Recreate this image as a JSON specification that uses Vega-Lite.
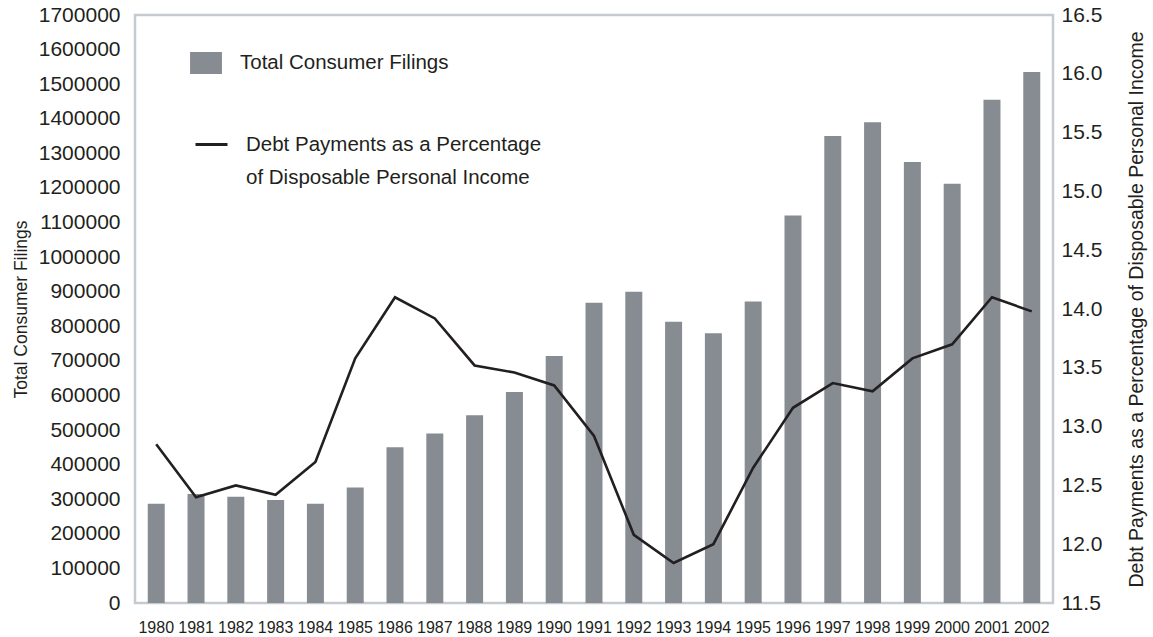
{
  "$schema": "https://vega.github.io/schema/vega-lite/v6.json",
  "width": 918,
  "height": 588,
  "autosize": {"type": "none"},
  "padding": {"left": 135, "top": 15, "right": 100, "bottom": 34},
  "background": "white",
  "config": {
    "font": "Liberation Sans",
    "view": {"stroke": "#c5c9d0", "strokeWidth": 2.5},
    "axis": {"labelFont": "Liberation Sans", "titleFont": "Liberation Sans", "labelColor": "#231f20", "titleColor": "#231f20", "grid": false, "ticks": false, "domain": false, "titleFontWeight": "normal"},
    "legend": {"labelFont": "Liberation Sans", "labelColor": "#231f20", "labelFontSize": 20.5, "padding": 0, "labelLimit": 600},
    "style": {"guide-label": {"lineHeight": 33}}
  },
  "data": {"values": [
    {"year": "1980", "filings": 287000, "debt": 12.85},
    {"year": "1981", "filings": 315000, "debt": 12.4},
    {"year": "1982", "filings": 307000, "debt": 12.5},
    {"year": "1983", "filings": 298000, "debt": 12.42},
    {"year": "1984", "filings": 287000, "debt": 12.7},
    {"year": "1985", "filings": 334000, "debt": 13.58},
    {"year": "1986", "filings": 450000, "debt": 14.1},
    {"year": "1987", "filings": 490000, "debt": 13.92},
    {"year": "1988", "filings": 543000, "debt": 13.52},
    {"year": "1989", "filings": 610000, "debt": 13.46},
    {"year": "1990", "filings": 714000, "debt": 13.35},
    {"year": "1991", "filings": 868000, "debt": 12.92},
    {"year": "1992", "filings": 900000, "debt": 12.08},
    {"year": "1993", "filings": 813000, "debt": 11.84},
    {"year": "1994", "filings": 780000, "debt": 12.0},
    {"year": "1995", "filings": 872000, "debt": 12.65},
    {"year": "1996", "filings": 1120000, "debt": 13.16},
    {"year": "1997", "filings": 1350000, "debt": 13.37},
    {"year": "1998", "filings": 1390000, "debt": 13.3},
    {"year": "1999", "filings": 1275000, "debt": 13.58},
    {"year": "2000", "filings": 1212000, "debt": 13.7},
    {"year": "2001", "filings": 1455000, "debt": 14.1},
    {"year": "2002", "filings": 1535000, "debt": 13.98}
  ]},
  "encoding": {
    "x": {
      "field": "year", "type": "ordinal",
      "scale": {"paddingInner": 0.573, "paddingOuter": 0.32},
      "axis": {"title": null, "labelAngle": 0, "labelFontSize": 16, "labelPadding": 16}
    }
  },
  "layer": [
    {
      "mark": {"type": "bar"},
      "encoding": {
        "y": {
          "field": "filings", "type": "quantitative",
          "scale": {"domain": [0, 1700000], "nice": false},
          "axis": {"title": "Total Consumer Filings", "titleFontSize": 17.5, "labelFontSize": 21, "labelPadding": 15, "format": "d",
                   "values": [0,100000,200000,300000,400000,500000,600000,700000,800000,900000,1000000,1100000,1200000,1300000,1400000,1500000,1600000,1700000],
                   "titlePadding": 8}
        },
        "fill": {
          "datum": "Total Consumer Filings",
          "scale": {"range": ["#878c92"]},
          "legend": {"title": null, "orient": "none", "legendX": 60, "legendY": 37,
                     "symbolType": "M-1.45,-1H1.45V1H-1.45Z", "symbolSize": 484, "symbolStrokeWidth": 0, "labelOffset": 23}
        }
      }
    },
    {
      "mark": {"type": "line", "strokeWidth": 2.6},
      "encoding": {
        "y": {
          "field": "debt", "type": "quantitative",
          "scale": {"domain": [11.5, 16.5], "nice": false, "zero": false},
          "axis": {"orient": "right", "title": "Debt Payments as a Percentage of Disposable Personal Income", "titleAngle": -90,
                   "titleFontSize": 19.5, "labelFontSize": 21, "labelPadding": 8, "format": ".1f",
                   "values": [11.5,12,12.5,13,13.5,14,14.5,15,15.5,16,16.5], "titlePadding": 45}
        },
        "stroke": {
          "datum": "Debt Payments",
          "scale": {"range": ["#231f20"]},
          "legend": {"title": null, "orient": "none", "legendX": 59, "legendY": 112,
                     "symbolType": "stroke", "symbolSize": 1024, "symbolStrokeWidth": 3, "labelOffset": 17,
                     "labelExpr": "['Debt Payments as a Percentage', 'of Disposable Personal Income']"}
        }
      }
    }
  ],
  "resolve": {"scale": {"y": "independent"}}
}
